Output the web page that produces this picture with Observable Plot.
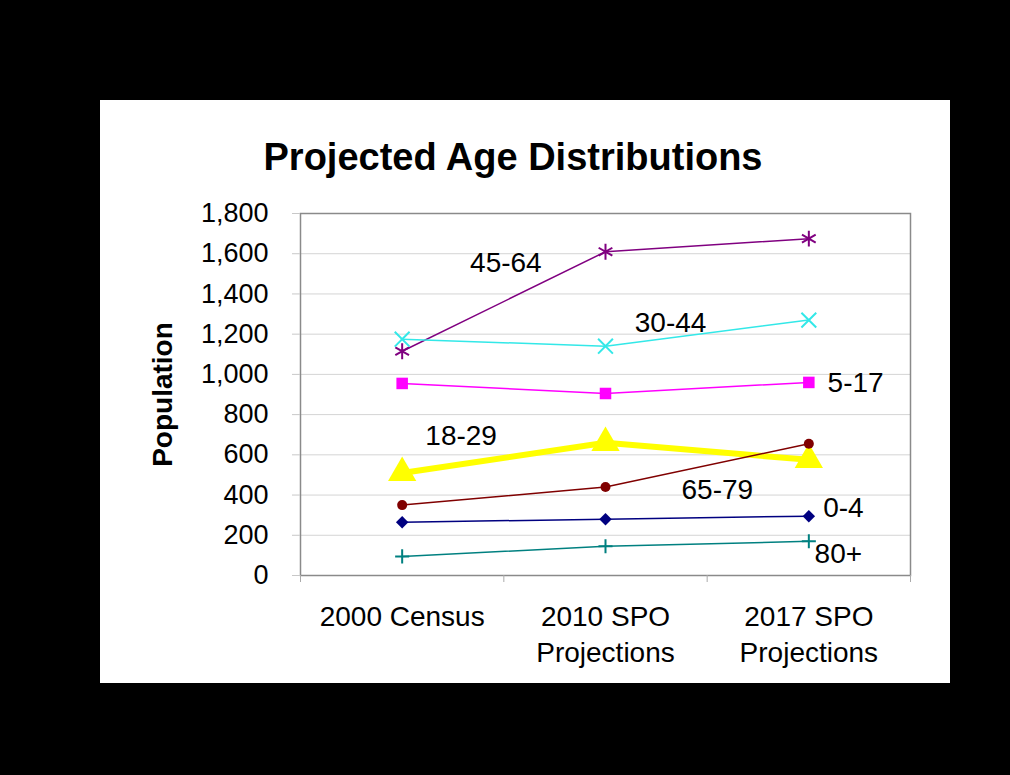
<!DOCTYPE html>
<html>
<head>
<meta charset="utf-8">
<script src="https://cdn.jsdelivr.net/npm/d3@7"></script>
<script src="https://cdn.jsdelivr.net/npm/@observablehq/plot@0.6"></script>
<style>
  html, body { margin: 0; padding: 0; background: #000; width: 1010px; height: 775px; overflow: hidden; }
  #panel { position: absolute; left: 100px; top: 100px; width: 850px; height: 583px; background: #fff; }
  #title { position: absolute; left: 100px; width: 826px; top: 135px; text-align: center;
           font-family: "Liberation Sans", Arial, sans-serif; font-weight: bold; font-size: 38px; line-height: 44px; color: #000; }
  #chart { position: absolute; left: 0; top: 0; }
</style>
</head>
<body>
<div id="panel"></div>
<div id="title">Projected Age Distributions</div>
<div id="chart"></div>
<script>
// ---- data ----
const categories = ["2000 Census", "2010 SPO\nProjections", "2017 SPO\nProjections"];
const yTicks = [0, 200, 400, 600, 800, 1000, 1200, 1400, 1600, 1800];
const seriesOrder = ["18-29", "45-64", "30-44", "5-17", "65-79", "0-4", "80+"];
const age0_4   = [265, 280, 295];
const age5_17  = [955, 905, 960];
const age18_29 = [510, 660, 575];
const age30_44 = [1175, 1140, 1270];
const age45_64 = [1115, 1610, 1675];
const age65_79 = [350, 440, 655];
const age80    = [95, 145, 170];
// series label annotations (data-space anchor: category index, value)
const labelText  = ["45-64", "30-44", "5-17", "18-29", "65-79", "0-4", "80+"];
const labelIndex = [0.51, 1.32, 2.23, 0.29, 1.55, 2.17, 2.145];
const labelValue = [1555, 1255, 955, 695, 423, 333, 109];

const seriesValues = {
  "0-4": age0_4, "5-17": age5_17, "18-29": age18_29, "30-44": age30_44,
  "45-64": age45_64, "65-79": age65_79, "80+": age80
};

// ---- styles ----
const styles = {
  "18-29": {color: "#ffff00", width: 6, symbol: "triangle", r: 10.5, filled: true},
  "45-64": {color: "#800080", width: 1.5, symbol: "asterisk", r: 7.5, filled: false},
  "30-44": {color: "#33e8e8", width: 1.5, symbol: "times", r: 6.8, filled: false},
  "5-17":  {color: "#ff00ff", width: 1.5, symbol: "square", r: 6.5, filled: true},
  "65-79": {color: "#800000", width: 1.5, symbol: "circle", r: 5, filled: true},
  "0-4":   {color: "#000080", width: 1.5, symbol: "diamond2", r: 5.6, filled: true},
  "80+":   {color: "#008080", width: 1.5, symbol: "plus", r: 4.6, filled: false}
};

const rows = seriesOrder.flatMap(s => seriesValues[s].map((v, i) => ({series: s, i, value: v})));
const labels = labelText.map((t, k) => ({text: t, i: labelIndex[k], value: labelValue[k]}));

const seriesMarks = seriesOrder.flatMap(s => {
  const st = styles[s];
  const data = rows.filter(d => d.series === s);
  return [
    Plot.line(data, {x: "i", y: "value", stroke: st.color, strokeWidth: st.width}),
    Plot.dot(data, st.filled
      ? {x: "i", y: "value", symbol: () => st.symbol, r: st.r, fill: st.color, stroke: "none"}
      : {x: "i", y: "value", symbol: () => st.symbol, r: st.r, fill: "none", stroke: st.color, strokeWidth: 2})
  ];
});

const chart = Plot.plot({
  width: 1010,
  height: 775,
  marginLeft: 300,
  marginRight: 100,
  marginTop: 213,
  marginBottom: 200,
  style: {fontFamily: "'Liberation Sans', Arial, sans-serif", background: "transparent", color: "#000"},
  x: {type: "linear", domain: [-0.5, 2.5]},
  y: {domain: [0, 1800]},
  symbol: {type: "identity"},
  marks: [
    Plot.gridY({ticks: yTicks, stroke: "#d4d4d4", strokeOpacity: 1, strokeWidth: 1}),
    Plot.frame({stroke: "#8a8a8a", strokeWidth: 1.5}),
    Plot.axisY({ticks: yTicks, tickFormat: d3.format(","), tickSize: 8, tickPadding: 24,
                fontSize: 27, stroke: "#c8c8c8", fill: "#000", label: null}),
    Plot.axisX({ticks: [-0.5, 0.5, 1.5, 2.5], tickFormat: () => "", tickSize: 7, stroke: "#aaa", label: null}),
    Plot.axisX({ticks: [0, 1, 2], tickFormat: i => categories[i], tickSize: 0, tickPadding: 25,
                fontSize: 28, lineHeight: 1.29, fill: "#000", label: null}),
    Plot.text(["Population"], {frameAnchor: "left", dx: -137, rotate: -90, textAnchor: "middle",
                fontSize: 28, fontWeight: "bold", fill: "#000"}),
    ...seriesMarks,
    Plot.text(labels, {x: "i", y: "value", text: "text", fontSize: 28, fill: "#000"})
  ]
});
document.getElementById("chart").appendChild(chart);
</script>
</body>
</html>
